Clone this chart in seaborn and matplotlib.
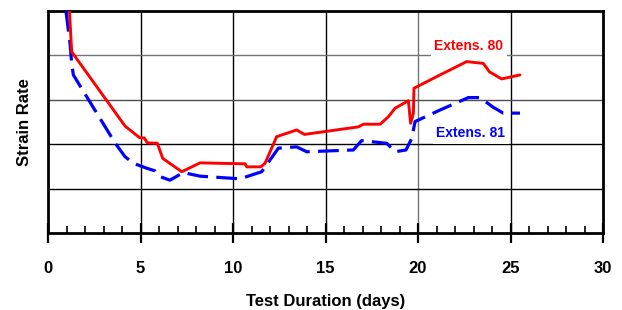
import numpy as np
import pandas as pd
import matplotlib
matplotlib.use("Agg")
import matplotlib.pyplot as plt
import seaborn as sns
from matplotlib.ticker import MultipleLocator, NullFormatter

# Extens. 80 (red, solid)
days_80 = [1.15, 1.28, 4.16, 4.94, 5.20, 5.37, 5.91, 6.20, 7.23, 8.22, 10.38, 10.65,
           10.74, 11.50, 11.73, 12.36, 13.44, 13.86, 16.77, 17.05, 17.95, 18.40, 18.76,
           19.48, 19.60, 19.75, 19.78, 21.19, 22.63, 23.53, 23.86, 24.52, 25.51]
rate_80 = [5.05, 4.08, 2.41, 2.15, 2.14, 2.03, 2.02, 1.68, 1.38, 1.58, 1.56, 1.56,
           1.49, 1.49, 1.57, 2.17, 2.32, 2.22, 2.39, 2.45, 2.45, 2.62, 2.81,
           2.98, 2.47, 2.70, 3.26, 3.56, 3.86, 3.82, 3.63, 3.47, 3.56]

# Extens. 81 (blue, dashed)
days_81 = [0.97, 1.19, 1.28, 1.37, 3.62, 4.16, 4.61, 5.33, 5.78, 6.05, 6.59, 7.31,
           8.22, 10.38, 11.55, 12.45, 13.44, 13.98, 16.50, 16.95, 18.31, 18.76, 19.35,
           19.66, 19.84, 21.19, 22.72, 23.35, 24.07, 24.61, 25.51]
rate_81 = [5.00, 4.27, 3.82, 3.56, 2.03, 1.72, 1.57, 1.46, 1.40, 1.27, 1.19, 1.36,
           1.28, 1.22, 1.38, 1.91, 1.94, 1.83, 1.87, 2.08, 2.02, 1.83, 1.87,
           2.13, 2.51, 2.77, 3.05, 3.05, 2.83, 2.70, 2.70]

sns.set_theme(style="white")
plt.rcParams['font.family'] = ['Liberation Sans', 'DejaVu Sans']
plt.rcParams['font.weight'] = 'bold'
plt.rcParams['text.color'] = 'black'
plt.rcParams['axes.labelcolor'] = 'black'
plt.rcParams['xtick.color'] = 'black'

fig = plt.figure(figsize=(6.22, 3.10), dpi=100)
ax = fig.add_axes([0.0772, 0.2484, 0.8923, 0.7161])

df80 = pd.DataFrame({"days": days_80, "rate": rate_80})
df81 = pd.DataFrame({"days": days_81, "rate": rate_81})

# grid lines
for x in [5, 10, 15, 25]:
    ax.axvline(x, color='black', lw=1.0, zorder=0)
ax.axvline(20, color='0.45', lw=1.0, zorder=0)
for y, c in [(4, '0.45'), (3, '0.3'), (2, 'black'), (1, 'black')]:
    ax.axhline(y, color=c, lw=1.0, zorder=0)

sns.lineplot(data=df81, x="days", y="rate", sort=False, ax=ax, color='#0000ff',
             lw=2.3, linestyle=(0, (6.5, 2.6)), zorder=3)
sns.lineplot(data=df80, x="days", y="rate", sort=False, ax=ax, color='#ff0000',
             lw=2.1, zorder=4)

ax.set_xlim(0, 30)
ax.set_ylim(0, 5)
ax.xaxis.set_major_locator(MultipleLocator(5))
ax.xaxis.set_minor_locator(MultipleLocator(1))
ax.yaxis.set_major_formatter(NullFormatter())
ax.tick_params(axis='y', left=False, length=0)
ax.tick_params(axis='x', which='major', direction='inout', length=14, width=1.6,
               pad=13, labelsize=12, bottom=True, color='black', labelcolor='black')
ax.tick_params(axis='x', which='minor', direction='in', length=5, width=1.2,
               bottom=True, color='black')
for lab in ax.get_xticklabels():
    lab.set_fontweight('bold')

for s in ax.spines.values():
    s.set_color('black')
    s.set_linewidth(2)

ax.set_xlabel("Test Duration (days)", fontsize=12, fontweight='bold', labelpad=13)
ax.set_ylabel("Strain Rate", fontsize=12, fontweight='bold', labelpad=8)

box = dict(facecolor='white', edgecolor='none', pad=2.5)
ax.text(22.73, 4.21, "Extens. 80", color='#ff0000', fontsize=10, fontweight='bold',
        ha='center', va='center', bbox=box, zorder=5)
ax.text(22.86, 2.25, "Extens. 81", color='#0000ff', fontsize=10, fontweight='bold',
        ha='center', va='center', bbox=box, zorder=5)

fig.savefig("out.png", dpi=100)
